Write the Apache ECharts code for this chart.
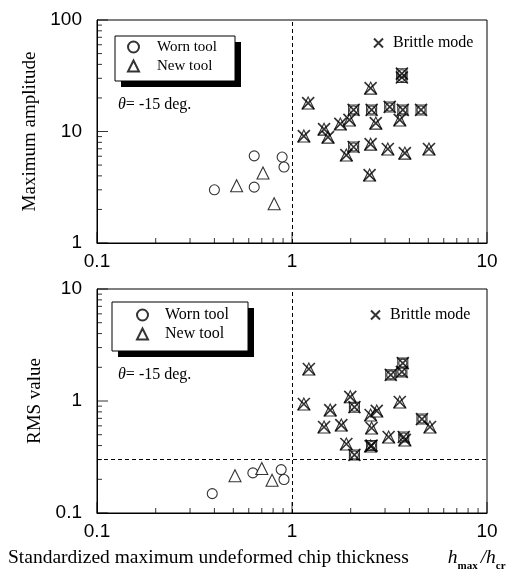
<!DOCTYPE html>
<html>
<head>
<meta charset="utf-8">
<script src="https://cdn.jsdelivr.net/npm/echarts/dist/echarts.min.js"></script>
<style>
  html, body { margin: 0; padding: 0; background: #fff; }
  #chart { width: 523px; height: 581px; }
</style>
</head>
<body>
<div id="chart"></div>
<script>
// top panel: maximum amplitude
const ampWorn = [[0.40, 3.0], [0.64, 6.05], [0.64, 3.17], [0.89, 5.9], [0.91, 4.8]];
const ampNew = [[0.52, 3.26], [0.71, 4.24], [0.81, 2.25]];
const ampBrittleNew = [[1.15, 9.1], [1.21, 18.0], [1.46, 10.5], [1.53, 8.9], [1.77, 11.7],
  [1.97, 12.7], [1.90, 6.15], [2.53, 24.5], [2.53, 7.7], [2.69, 11.9], [2.50, 4.07],
  [3.10, 6.97], [3.57, 12.7], [3.79, 6.4], [5.04, 6.97]];
const ampBrittleWorn = [[2.07, 15.6], [2.56, 15.6], [3.17, 16.6], [3.70, 15.6], [4.59, 15.6],
  [3.66, 30.5], [3.66, 33.0], [2.07, 7.26]];

// bottom panel: RMS value
const rmsWorn = [[0.39, 0.149], [0.63, 0.228], [0.88, 0.244], [0.91, 0.199]];
const rmsNew = [[0.51, 0.215], [0.70, 0.25], [0.79, 0.196]];
const rmsBrittleNew = [[1.22, 1.93], [1.15, 0.94], [1.57, 0.83], [1.46, 0.586], [1.79, 0.61],
  [1.99, 1.09], [1.90, 0.413], [2.53, 0.75], [2.72, 0.815], [2.56, 0.574], [2.53, 0.396],
  [3.13, 0.477], [3.57, 0.98], [3.79, 0.449], [5.1, 0.586]];
const rmsBrittleWorn = [[2.09, 0.88], [2.09, 0.33], [3.21, 1.71], [3.66, 1.82], [3.70, 2.18],
  [4.64, 0.69], [3.74, 0.477], [2.56, 0.40]];

// tick positions
const xMajorTicks = [0.1, 1, 10];
const xMinorTicks = [0.2, 0.3, 0.4, 0.5, 0.6, 0.7, 0.8, 0.9, 2, 3, 4, 5, 6, 7, 8, 9];
const ampMajorTicks = [1, 10, 100];
const ampMinorTicks = [2, 3, 4, 5, 6, 7, 8, 9, 20, 30, 40, 50, 60, 70, 80, 90];
const rmsMajorTicks = [0.1, 1, 10];
const rmsMinorTicks = [0.2, 0.3, 0.4, 0.5, 0.6, 0.7, 0.8, 0.9, 2, 3, 4, 5, 6, 7, 8, 9];
const rmsThreshold = 0.3;

const chart = echarts.init(document.getElementById('chart'));

const SERIF = 'Liberation Serif';
const SANS = 'Liberation Sans';
const crossPath = 'path://M0,0L10,10M10,0L0,10';

const dashed = { type: [4, 3], color: '#000', width: 1 };
const hollow = { color: '#fff', borderColor: '#000', borderWidth: 1.1 };
const crossStyle = { color: 'rgba(0,0,0,0)', borderColor: '#000', borderWidth: 1.7 };

function xAxisOf(grid) {
  return {
    type: 'log', logBase: 10, gridIndex: grid, min: 0.1, max: 10,
    axisLine: { show: true, lineStyle: { color: '#000', width: 1 } },
    axisTick: { show: false },
    axisLabel: { show: true, color: '#000', fontFamily: SANS, fontSize: 19, margin: 9 },
    splitLine: { show: false }
  };
}
function yAxisOf(grid, min, max, name) {
  return {
    type: 'log', logBase: 10, gridIndex: grid, min: min, max: max,
    name: name, nameLocation: 'middle', nameGap: 52, nameRotate: 90,
    nameTextStyle: { fontFamily: SERIF, fontSize: 19, color: '#000' },
    axisLine: { show: true, lineStyle: { color: '#000', width: 1 } },
    axisTick: { show: false },
    axisLabel: { show: true, color: '#000', fontFamily: SANS, fontSize: 19, margin: 15 },
    splitLine: { show: false }
  };
}

// inward tick marks drawn as thin rect symbols placed on the axes
function tickMarks(ax, xMin, yMin, xTicks, yTicks, len) {
  const base = {
    type: 'scatter', xAxisIndex: ax, yAxisIndex: ax, silent: true, clip: false, z: 3,
    symbol: 'rect', itemStyle: { color: '#000' }
  };
  return [
    Object.assign({}, base, {
      name: 'xtick', data: xTicks.map(function (v) { return [v, yMin]; }),
      symbolSize: [1, len], symbolOffset: [0, -len / 2]
    }),
    Object.assign({}, base, {
      name: 'ytick', data: yTicks.map(function (v) { return [xMin, v]; }),
      symbolSize: [len, 1], symbolOffset: [len / 2, 0]
    })
  ];
}

function panelSeries(ax, worn, fresh, brNew, brWorn, lines) {
  const base = { type: 'scatter', xAxisIndex: ax, yAxisIndex: ax, animation: false };
  return [
    Object.assign({}, base, {
      name: 'Worn tool', data: worn, symbol: 'circle', symbolSize: 10, itemStyle: hollow,
      markLine: {
        silent: true, symbol: ['none', 'none'], label: { show: false },
        lineStyle: dashed, data: lines
      }
    }),
    Object.assign({}, base, { name: 'New tool', data: fresh, symbol: 'triangle', symbolSize: 12, itemStyle: hollow }),
    Object.assign({}, base, { name: 'New tool', data: brNew, symbol: 'triangle', symbolSize: 12, itemStyle: hollow }),
    Object.assign({}, base, { name: 'worn-brittle', data: brWorn, symbol: 'rect', symbolSize: 10, itemStyle: hollow }),
    Object.assign({}, base, { name: 'worn-brittle', data: brWorn, symbol: 'circle', symbolSize: 8, itemStyle: hollow }),
    Object.assign({}, base, { name: 'Brittle mode', data: brNew.concat(brWorn), symbol: crossPath, symbolSize: 12, itemStyle: crossStyle })
  ];
}

function toolLegend(left, top, fontSize, gap, textGap) {
  return {
    data: ['Worn tool', 'New tool'],
    orient: 'vertical', left: left, top: top, z: 10,
    padding: 0, itemGap: gap, itemWidth: 11, itemHeight: 11,
    selectedMode: false,
    formatter: function (name) { return '{a|' + name + '}'; },
    textStyle: {
      rich: { a: { fontFamily: SERIF, fontSize: fontSize, color: '#000', padding: [0, 0, 0, textGap] } }
    }
  };
}
function brittleLegend(left, top) {
  return {
    data: [{ name: 'Brittle mode', icon: crossPath }],
    left: left, top: top, padding: 0, itemWidth: 9, itemHeight: 9, selectedMode: false,
    formatter: function (name) { return '{a|' + name + '}'; },
    textStyle: {
      rich: { a: { fontFamily: SERIF, fontSize: 16, color: '#000', padding: [0, 0, 0, 5] } }
    }
  };
}

// framed legend box with a hard black drop shadow
function legendBox(x, y, w, h) {
  return [
    { type: 'rect', z: 8, shape: { x: x + 6, y: y + 6, width: w, height: h }, style: { fill: '#000' } },
    { type: 'rect', z: 9, shape: { x: x, y: y, width: w, height: h }, style: { fill: '#fff', stroke: '#000', lineWidth: 1 } }
  ];
}

function theta(top) {
  return {
    type: 'text', left: 118, top: top,
    style: {
      text: '{t|θ}{r|= -15 deg.}',
      rich: {
        t: { fontFamily: SERIF, fontStyle: 'italic', fontSize: 16, fill: '#000' },
        r: { fontFamily: SERIF, fontSize: 16, fill: '#000' }
      }
    }
  };
}

const option = {
  backgroundColor: '#fff',
  animation: false,
  grid: [
    { left: 97, top: 20, width: 390, height: 223, show: true, backgroundColor: 'transparent', borderColor: '#000', borderWidth: 1 },
    { left: 97, top: 289, width: 390, height: 224, show: true, backgroundColor: 'transparent', borderColor: '#000', borderWidth: 1 }
  ],
  xAxis: [xAxisOf(0), xAxisOf(1)],
  yAxis: [
    yAxisOf(0, 1, 100, 'Maximum amplitude'),
    yAxisOf(1, 0.1, 10, 'RMS value')
  ],
  legend: [
    toolLegend(127, 39.5, 15, 4, 13),
    toolLegend(136, 307, 16, 3, 12),
    brittleLegend(373, 35),
    brittleLegend(370, 307)
  ],
  graphic: [].concat(
    legendBox(115, 36, 120, 45),
    legendBox(112, 302, 136, 49),
    [
      theta(97),
      theta(367),
      {
        type: 'text', left: 8, top: 548,
        style: {
          text: 'Standardized maximum undeformed chip thickness        {h|h}{s|max}{h|/h}{s|cr}',
          fontFamily: SERIF, fontSize: 19.5, fill: '#000',
          rich: {
            h: { fontFamily: SERIF, fontStyle: 'italic', fontSize: 19.5, fill: '#000' },
            s: { fontFamily: SERIF, fontWeight: 'bold', fontSize: 11, fill: '#000', padding: [16, 3, 0, 0] }
          }
        }
      }
    ]
  ),
  series: [].concat(
    tickMarks(0, 0.1, 1, xMajorTicks, ampMajorTicks, 11),
    tickMarks(0, 0.1, 1, xMinorTicks, ampMinorTicks, 5),
    tickMarks(1, 0.1, 0.1, xMajorTicks, rmsMajorTicks, 11),
    tickMarks(1, 0.1, 0.1, xMinorTicks, rmsMinorTicks, 5),
    panelSeries(0, ampWorn, ampNew, ampBrittleNew, ampBrittleWorn, [{ xAxis: 1 }]),
    panelSeries(1, rmsWorn, rmsNew, rmsBrittleNew, rmsBrittleWorn, [{ xAxis: 1 }, { yAxis: rmsThreshold }])
  )
};

chart.setOption(option);
</script>
</body>
</html>
